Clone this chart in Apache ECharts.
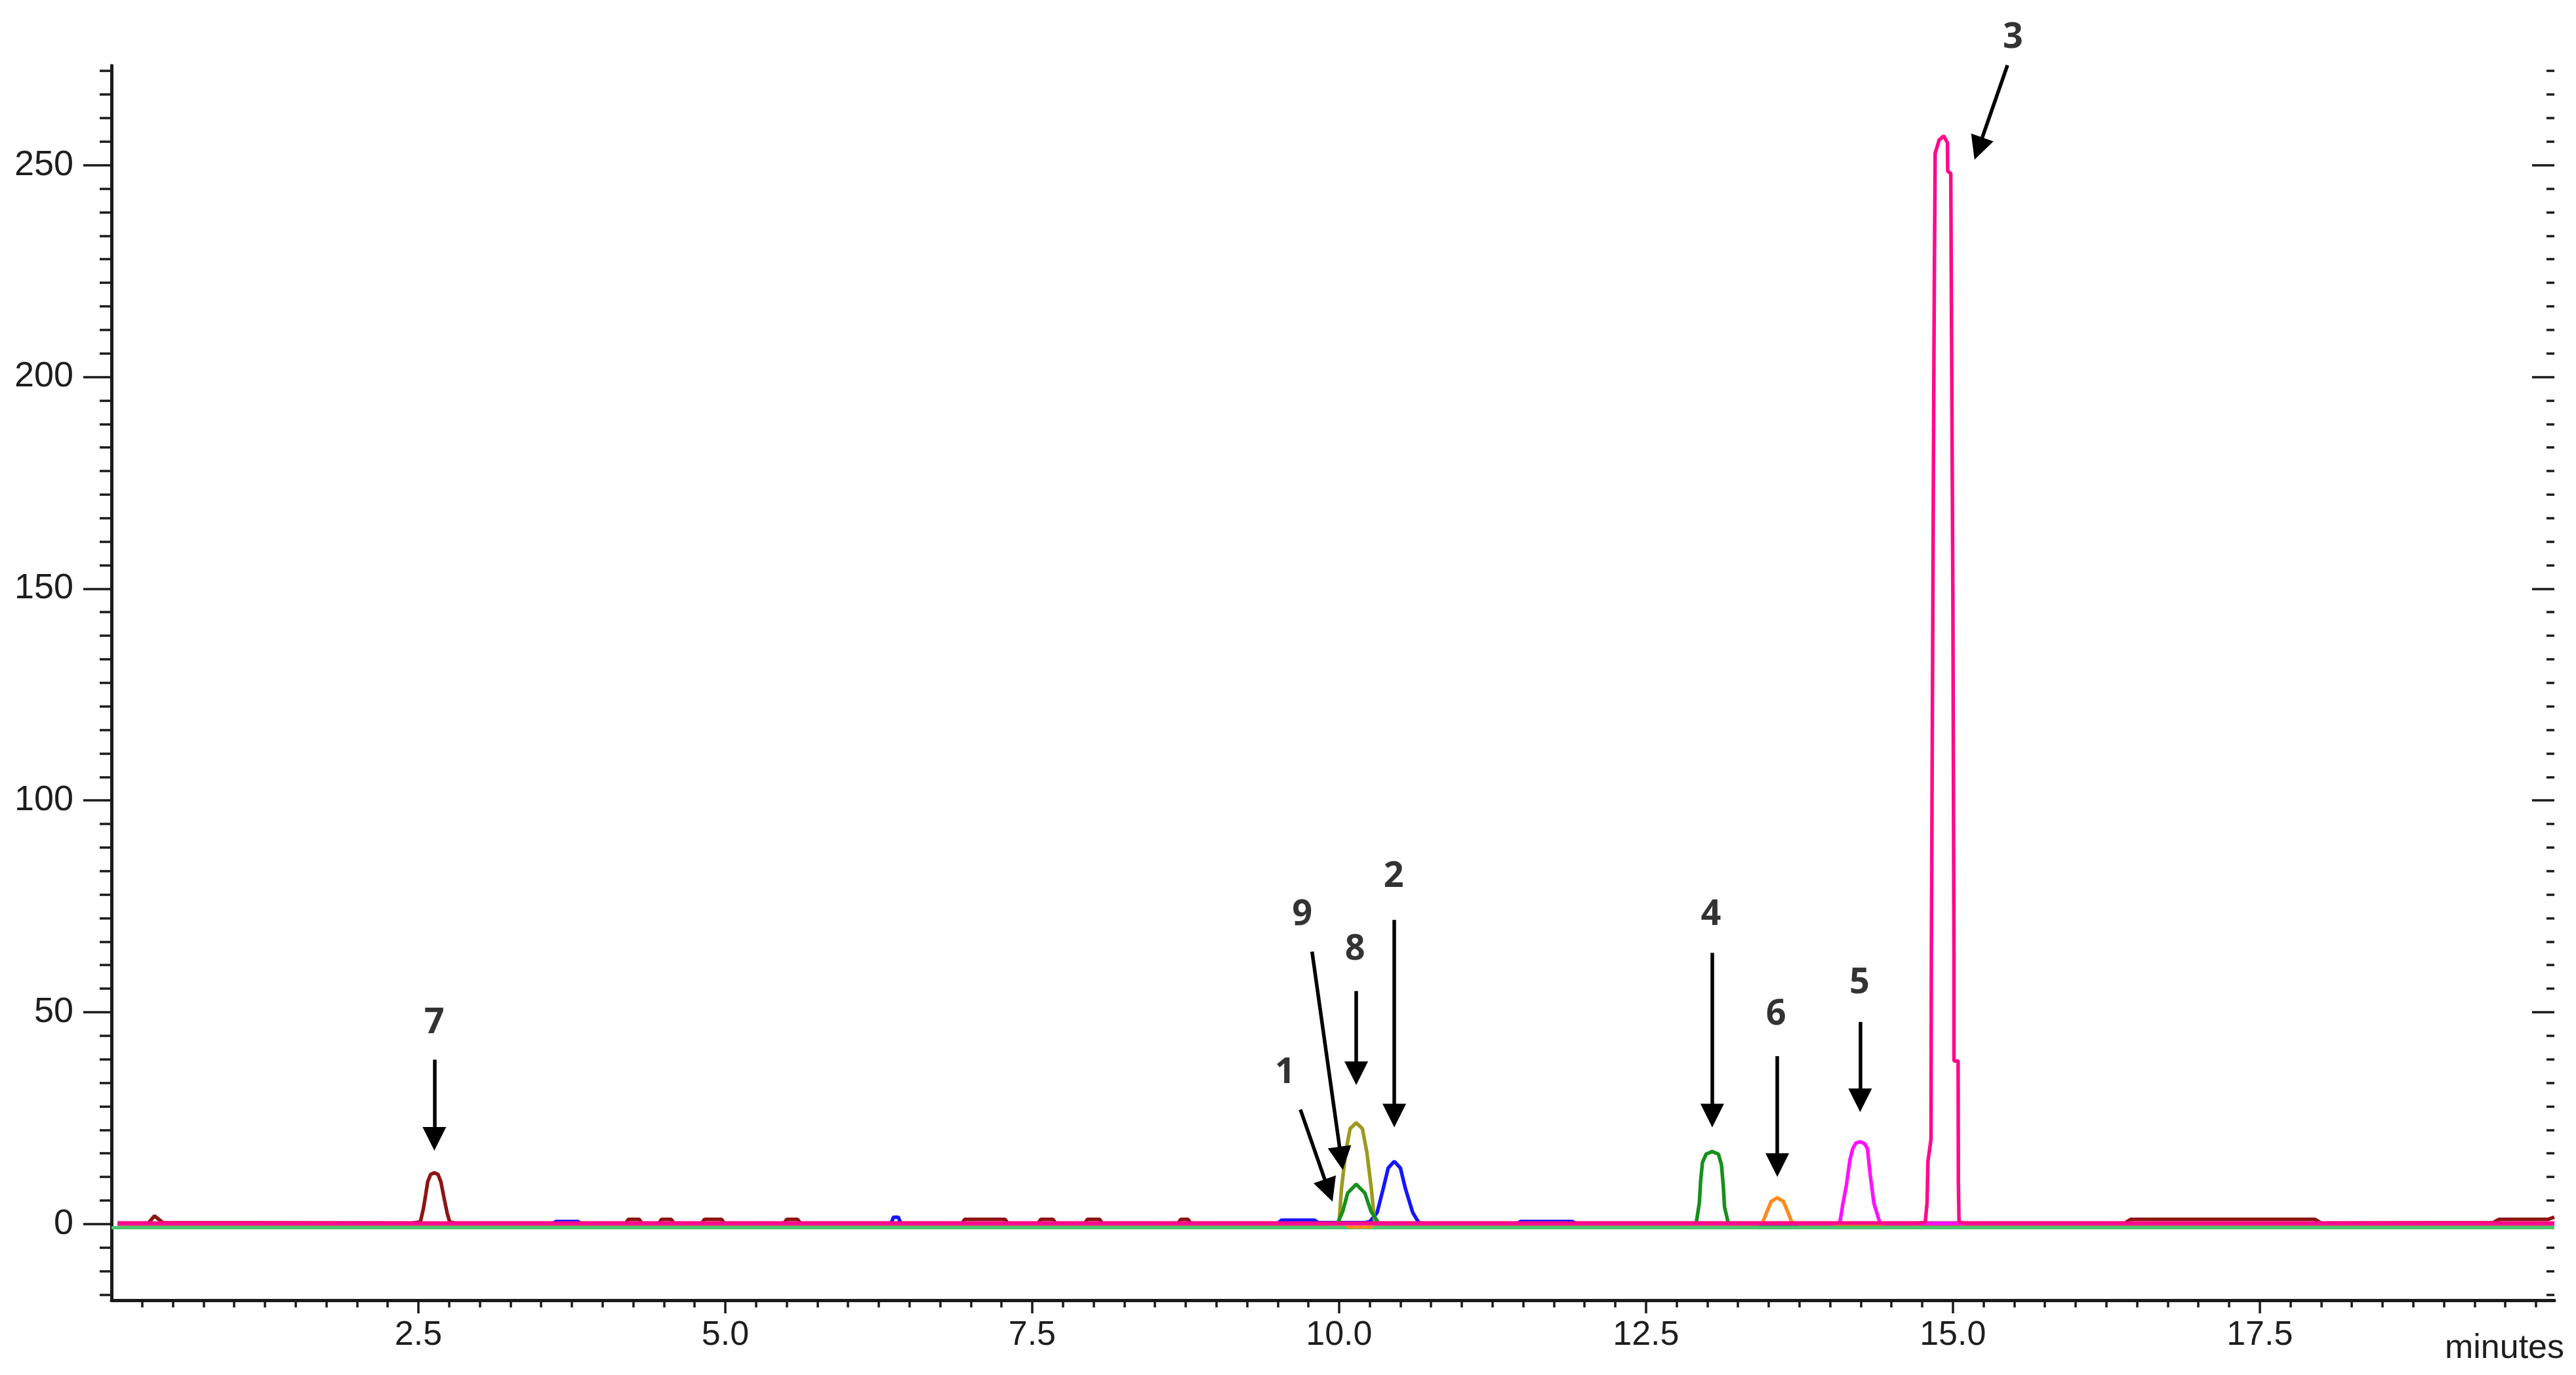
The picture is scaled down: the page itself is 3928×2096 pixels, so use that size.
<!DOCTYPE html>
<html>
<head>
<meta charset="utf-8">
<script src="https://cdn.jsdelivr.net/npm/echarts@6/dist/echarts.min.js"></script>
<style>html,body{margin:0;padding:0;background:#fff;}#c{width:3928px;height:2096px;}</style>
</head>
<body>
<div id="c"></div>
<script>
// ---- axes ----
const xRange = [0, 19.9];
const yRange = [-18, 273.5];
const yMajorTicks = [0, 50, 100, 150, 200, 250];
const yMinorPerMajor = 9;
const xLabelTicks = [2.5, 5.0, 7.5, 10.0, 12.5, 15.0, 17.5];
const xMinorStep = 0.25;

// ---- traces [minutes, signal] ----
const traceGreenBase = [[0, -0.9], [19.9, -0.9]];
const tracePinkBase = [[0.05, 0.1], [19.9, 0.1]];
const traceBlue = [[0.05, 0.1], [3.6, 0.1], [3.62, 0.6], [3.8, 0.6], [3.82, 0.1], [6.35, 0.1], [6.37, 1.6], [6.41, 1.6], [6.43, 0.1],
  [9.5, 0.1], [9.53, 0.9], [9.8, 0.9], [9.83, 0.3], [10.2, 0.3], [10.25, 0.5], [10.31, 2.7], [10.36, 8.4], [10.4, 13.2],
  [10.45, 14.8], [10.5, 13.2], [10.54, 8.4], [10.6, 2.7], [10.65, 0.3], [10.7, 0.1], [11.45, 0.1], [11.48, 0.6], [11.9, 0.6],
  [11.93, 0.1], [19.9, 0.1]];
const traceOlive = [[0.05, 0], [9.95, 0], [10.0, 0.3], [10.02, 8.4], [10.054, 17], [10.09, 22.5], [10.14, 23.9], [10.19, 22.5],
  [10.226, 17], [10.263, 8.4], [10.29, 0.3], [10.33, 0], [19.9, 0]];
const traceGreen9 = [[0.05, 0], [9.95, 0], [9.99, 0.3], [10.03, 3], [10.07, 7.3], [10.14, 9.4], [10.21, 7.3], [10.26, 3],
  [10.32, 0.3], [10.35, 0], [19.9, 0]];
const traceGreen4 = [[0.05, 0], [12.85, 0], [12.91, 0.3], [12.935, 5], [12.945, 10], [12.96, 14.5], [12.99, 16.5], [13.04, 17.1],
  [13.09, 16.5], [13.115, 14], [13.13, 9], [13.14, 4], [13.17, 0.3], [13.22, 0], [19.9, 0]];
const traceOrange = [[0.05, 0], [10.05, 0], [10.08, -0.7], [10.25, -0.7], [10.28, 0], [13.4, 0], [13.45, 0.3], [13.48, 2.5],
  [13.52, 5.3], [13.57, 6.2], [13.62, 5.3], [13.66, 2.5], [13.69, 0.3], [13.75, 0], [19.9, 0]];
const traceMagenta = [[0.05, 0.1], [14.0, 0.1], [14.079, 0.2], [14.105, 4.9], [14.132, 9], [14.162, 15.2], [14.185, 17.8],
  [14.21, 19.1], [14.244, 19.4], [14.28, 19], [14.304, 17.8], [14.327, 11.6], [14.357, 4.9], [14.406, 0.2], [14.45, 0.1], [19.9, 0.1]];
const traceMaroon = [[0.05, 0.2], [0.3, 0.2], [0.35, 1.9], [0.42, 0.3], [2.45, 0.2], [2.516, 0.5], [2.54, 3.5], [2.56, 7],
  [2.576, 10], [2.6, 11.7], [2.63, 12.1], [2.66, 11.7], [2.683, 10], [2.71, 6], [2.735, 2.5], [2.755, 0.5], [2.8, 0.2],
  [4.19, 0.2], [4.21, 1.1], [4.30, 1.1], [4.32, 0.2], [4.46, 0.2], [4.48, 1.1], [4.56, 1.1], [4.58, 0.2],
  [4.81, 0.2], [4.83, 1.1], [4.97, 1.1], [4.99, 0.2], [5.48, 0.2], [5.50, 1.1], [5.59, 1.1], [5.61, 0.2],
  [6.93, 0.2], [6.95, 1.1], [7.28, 1.1], [7.30, 0.2], [7.55, 0.2], [7.57, 1.1], [7.67, 1.1], [7.69, 0.2],
  [7.93, 0.2], [7.95, 1.1], [8.05, 1.1], [8.07, 0.2], [8.69, 0.2], [8.71, 1.1], [8.77, 1.1], [8.79, 0.2],
  [16.4, 0.2], [16.45, 1.1], [17.95, 1.1], [18.0, 0.2], [19.4, 0.3], [19.45, 1.1], [19.85, 1.1], [19.9, 1.6]];
const tracePink = [[0.05, 0.2], [14.7, 0.2], [14.775, 0.3], [14.79, 5], [14.797, 14.7], [14.822, 20], [14.825, 64],
  [14.845, 200], [14.85, 227], [14.856, 252.8], [14.888, 255.9], [14.925, 256.9], [14.956, 255.3], [14.958, 248.6],
  [14.983, 248], [15.0, 150], [15.009, 64], [15.009, 38.5], [15.043, 38.5], [15.045, 10], [15.05, 0.8], [15.065, 0.3],
  [15.12, 0.2], [19.9, 0.2]];

// ---- annotations ----
const annLabels = ['7', '1', '9', '8', '2', '4', '6', '5', '3'];
const annX = [2.63, 9.56, 9.70, 10.13, 10.445, 13.03, 13.56, 14.24, 15.49];
const annY = [47.4, 35.7, 73.0, 64.7, 82.0, 73.0, 49.4, 56.9, 280.1];
const arrowFrom = [[2.63, 38.8], [9.685, 27], [9.78, 64.3], [10.14, 55], [10.45, 71.8], [13.04, 64], [13.57, 39.6], [14.245, 47.7], [15.445, 273.6]];
const arrowTo = [[2.63, 20.1], [9.915, 7.9], [10.017, 15.5], [10.14, 35.6], [10.45, 25.6], [13.04, 25.6], [13.57, 13.9], [14.245, 29.2], [15.208, 253.9]];

// ---- derived tick lists (axis decoration only) ----
const yMinorTicks = [];
{
  const step = (yMajorTicks[1] - yMajorTicks[0]) / yMinorPerMajor;
  for (let k = Math.ceil(yRange[0] / step); k * step <= yRange[1]; k++) {
    if (k % yMinorPerMajor !== 0) yMinorTicks.push(+(k * step).toFixed(4));
  }
}
const xMinorTicks = [];
for (let k = 1; k * xMinorStep < xRange[1]; k++) {
  const v = +(k * xMinorStep).toFixed(4);
  if (Math.abs(v / 2.5 - Math.round(v / 2.5)) > 1e-6) xMinorTicks.push(v);
}

const AX = '#1a1a1a';
function yAx(pos, ticks, len, inside, labels, line) {
  return {
    type: 'value', position: pos, min: yRange[0], max: yRange[1], gridIndex: 0,
    axisLine: { show: line, lineStyle: { color: AX, width: 5 } },
    axisTick: { show: true, inside: inside, length: len, customValues: ticks, lineStyle: { color: AX, width: 3.5 } },
    axisLabel: labels ? { show: true, customValues: yMajorTicks, margin: 58, color: '#1e1e1e',
      fontFamily: 'Liberation Sans, Arial, sans-serif', fontSize: 54 } : { show: false },
    splitLine: { show: false }
  };
}
function xAx(ticks, len, labels, line) {
  return {
    type: 'value', position: 'bottom', min: xRange[0], max: xRange[1], gridIndex: 0,
    axisLine: { show: line, onZero: false, lineStyle: { color: AX, width: 5 } },
    axisTick: { show: true, length: len, customValues: ticks, lineStyle: { color: AX, width: 3.5 } },
    axisLabel: labels ? { show: true, customValues: xLabelTicks, margin: 28, color: '#1e1e1e',
      fontFamily: 'Liberation Sans, Arial, sans-serif', fontSize: 52,
      formatter: v => Number(v).toFixed(1) } : { show: false },
    splitLine: { show: false }
  };
}
function trace(name, data, color, width) {
  return { name, type: 'line', data, xAxisIndex: 0, yAxisIndex: 0, showSymbol: false, symbol: 'none',
    lineStyle: { color, width: width || 5.5 }, itemStyle: { color }, z: 2 };
}

const chart = echarts.init(document.getElementById('c'), null, { renderer: 'canvas' });
chart.setOption({
  animation: false,
  backgroundColor: '#ffffff',
  grid: { left: 170, right: 33, top: 100, bottom: 114 },
  xAxis: [xAx(xLabelTicks, 20, true, true), xAx(xMinorTicks, 11, false, false)],
  yAxis: [
    yAx('left', yMajorTicks, 43, false, true, true),
    yAx('left', yMinorTicks, 18, false, false, false),
    yAx('right', yMajorTicks, 34, true, false, false),
    yAx('right', yMinorTicks, 12, true, false, false)
  ],
  graphic: [{ type: 'text', right: 18, top: 2030,
    style: { text: 'minutes', fill: '#1e1e1e', font: '52px "Liberation Sans", Arial, sans-serif' } }],
  series: [
    trace('base', traceGreenBase, '#4fc46e', 5),
    trace('maroon', traceMaroon, '#8e1414'),
    trace('pinkbase', tracePinkBase, '#f0207e', 7),
    trace('blue', traceBlue, '#1515ff'),
    trace('olive', traceOlive, '#9c9a1c'),
    trace('green9', traceGreen9, '#17901c'),
    trace('green4', traceGreen4, '#17901c'),
    trace('orange', traceOrange, '#ff8a1c'),
    trace('magenta', traceMagenta, '#ff10ff'),
    trace('pink', tracePink, '#ff0a8a'),
    {
      type: 'lines', coordinateSystem: 'cartesian2d', xAxisIndex: 0, yAxisIndex: 0, clip: false, z: 5,
      symbol: ['none', 'triangle'], symbolSize: [1, 36],
      lineStyle: { color: '#000', width: 5.5, opacity: 1 },
      data: arrowFrom.map((p, i) => ({ coords: [p, arrowTo[i]] }))
    },
    {
      type: 'scatter', xAxisIndex: 0, yAxisIndex: 0, clip: false, symbolSize: 1, z: 6,
      itemStyle: { color: 'rgba(0,0,0,0)' },
      data: annX.map((x, i) => [x, annY[i], annLabels[i]]),
      label: { show: true, position: 'inside', formatter: p => p.value[2], color: '#000',
        fontFamily: '"Open Sans", sans-serif', fontWeight: 700, fontSize: 54 }
    }
  ]
});
</script>
</body>
</html>
